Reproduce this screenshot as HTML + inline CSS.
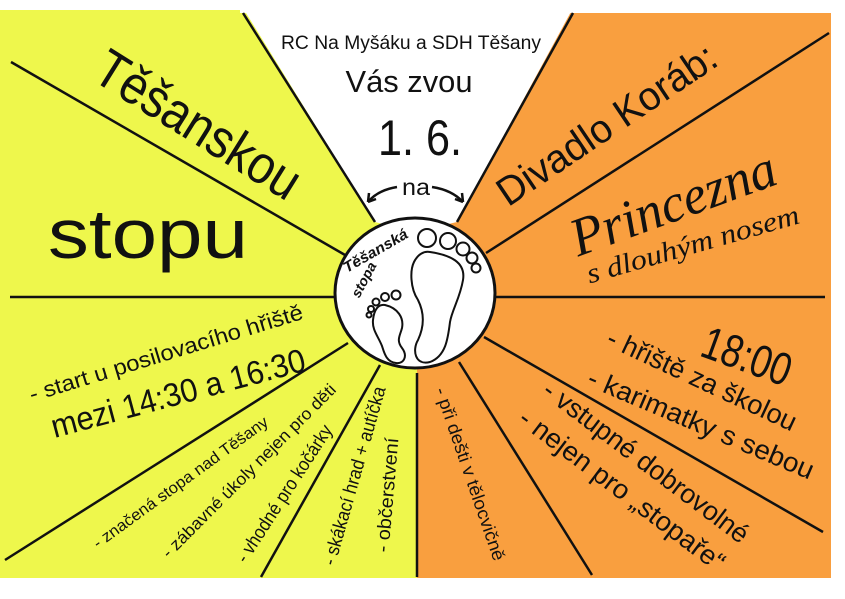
<!DOCTYPE html>
<html><head><meta charset="utf-8"><style>
html,body{margin:0;padding:0;background:#fff;}
svg{display:block;}
text{font-family:"Liberation Sans",sans-serif;fill:#111;}
</style></head><body>
<svg width="845" height="599" viewBox="0 0 845 599" xmlns="http://www.w3.org/2000/svg">
<rect x="0" y="10" width="418" height="568" fill="#eef74c"/>
<rect x="417" y="13" width="414" height="565" fill="#f99f3f"/>
<polygon points="243,8 375,222 415,232 457,222 573,8" fill="#fff"/>
<rect x="240" y="0" width="340" height="13" fill="#fff"/>
<g stroke="#111" stroke-width="2.5" fill="none">
<line x1="243" y1="13" x2="375" y2="222"/>
<line x1="573" y1="13" x2="457" y2="222"/>
<line x1="11" y1="62" x2="345" y2="255"/>
<line x1="10" y1="297" x2="337" y2="297"/>
<line x1="348" y1="343" x2="5" y2="560"/>
<line x1="380" y1="365" x2="261" y2="577"/>
<line x1="417" y1="373" x2="417" y2="577"/>
<line x1="829" y1="33" x2="486" y2="253"/>
<line x1="495" y1="297" x2="825" y2="297"/>
<line x1="459" y1="362" x2="592" y2="575"/>
<line x1="484" y1="337" x2="823" y2="532"/>
<path d="M397,187 Q378,190 368,202"/>
<path d="M368,202 L369,193 M368,202 L376,199"/>
<path d="M432,187 Q452,190 463,202"/>
<path d="M463,202 L462,193 M463,202 L455,199"/>
</g>
<ellipse cx="415" cy="293" rx="80" ry="75" fill="#fff" stroke="#111" stroke-width="3"/>
<g stroke="#111" stroke-width="2" fill="none">
<circle cx="427" cy="238" r="9"/><circle cx="448" cy="241" r="8"/><circle cx="463" cy="249" r="6.5"/><circle cx="472" cy="258" r="5.5"/><circle cx="476" cy="268" r="4.5"/>
<path d="M430,252 C450,255 466,262 463,280 C460,298 452,310 450,322 C448,338 446,356 430,362 C415,366 412,350 418,340 C425,325 424,312 418,300 C410,288 410,270 414,262 C418,254 424,251 430,252 Z"/>
<circle cx="396" cy="295" r="4.5"/><circle cx="385" cy="297" r="4"/><circle cx="376" cy="302" r="3.5"/><circle cx="371" cy="309" r="3"/><circle cx="369" cy="315" r="2.5"/>
<path d="M385,305 C398,308 404,318 402,328 C400,336 396,340 402,348 C408,356 404,364 396,363 C386,362 384,352 382,346 C378,336 372,330 373,320 C374,310 378,304 385,305 Z"/>
</g>
<text transform="translate(378,255) rotate(-30)" font-size="15" font-weight="bold" font-style="italic" text-anchor="middle" textLength="72" lengthAdjust="spacingAndGlyphs">Těšanská</text>
<text transform="translate(368,282) rotate(-62)" font-size="14" font-weight="bold" font-style="italic" text-anchor="middle" textLength="38" lengthAdjust="spacingAndGlyphs">stopa</text>

<text x="411" y="49" font-size="19" text-anchor="middle" textLength="260" lengthAdjust="spacingAndGlyphs">RC Na Myšáku a SDH Těšany</text>
<text x="409" y="92" font-size="31" text-anchor="middle" textLength="127" lengthAdjust="spacingAndGlyphs">Vás zvou</text>
<text x="420" y="155" font-size="50" text-anchor="middle" textLength="84" lengthAdjust="spacingAndGlyphs">1. 6.</text>
<text x="416" y="195" font-size="23" text-anchor="middle" textLength="28" lengthAdjust="spacingAndGlyphs">na</text>

<text transform="translate(198,125) rotate(32)" font-size="54" dominant-baseline="central" text-anchor="middle" textLength="232" lengthAdjust="spacingAndGlyphs">Těšanskou</text>
<text x="48" y="258" font-size="70" textLength="200" lengthAdjust="spacingAndGlyphs">stopu</text>

<text transform="translate(607,125) rotate(-34)" font-size="40" dominant-baseline="central" text-anchor="middle" textLength="256" lengthAdjust="spacingAndGlyphs">Divadlo Koráb:</text>
<text transform="translate(673,203) rotate(-20)" font-size="54" dominant-baseline="central" text-anchor="middle" textLength="215" lengthAdjust="spacingAndGlyphs" style="font-family:'Liberation Serif',serif;font-style:italic">Princezna</text>
<text transform="translate(693,245) rotate(-16)" font-size="28" dominant-baseline="central" text-anchor="middle" textLength="220" lengthAdjust="spacingAndGlyphs" style="font-family:'Liberation Serif',serif;font-style:italic">s dlouhým nosem</text>

<text transform="translate(747,356) rotate(20)" font-size="46" dominant-baseline="central" text-anchor="middle" textLength="92" lengthAdjust="spacingAndGlyphs">18:00</text>
<text transform="translate(702,380) rotate(25)" font-size="27" dominant-baseline="central" text-anchor="middle" textLength="206" lengthAdjust="spacingAndGlyphs">- hřiště za školou</text>
<text transform="translate(701,424) rotate(23)" font-size="27" dominant-baseline="central" text-anchor="middle" textLength="243" lengthAdjust="spacingAndGlyphs">- karimatky s sebou</text>
<text transform="translate(646,462) rotate(37)" font-size="27" dominant-baseline="central" text-anchor="middle" textLength="250" lengthAdjust="spacingAndGlyphs">- vstupné dobrovolné</text>
<text transform="translate(622,490) rotate(37)" font-size="27" dominant-baseline="central" text-anchor="middle" textLength="250" lengthAdjust="spacingAndGlyphs">- nejen pro „stopaře“</text>
<text transform="translate(470,474) rotate(71)" font-size="18" dominant-baseline="central" text-anchor="middle" textLength="182" lengthAdjust="spacingAndGlyphs">- při dešti v tělocvičně</text>

<text transform="translate(166,353) rotate(-17)" font-size="22" dominant-baseline="central" text-anchor="middle" textLength="285" lengthAdjust="spacingAndGlyphs">- start u posilovacího hřiště</text>
<text transform="translate(178,393) rotate(-15)" font-size="33" dominant-baseline="central" text-anchor="middle" textLength="262" lengthAdjust="spacingAndGlyphs">mezi 14:30 a 16:30</text>
<text transform="translate(181,483) rotate(-36)" font-size="16" dominant-baseline="central" text-anchor="middle" textLength="212" lengthAdjust="spacingAndGlyphs">- značená stopa nad Těšany</text>
<text transform="translate(249,471) rotate(-45)" font-size="17" dominant-baseline="central" text-anchor="middle" textLength="238" lengthAdjust="spacingAndGlyphs">- zábavné úkoly nejen pro děti</text>
<text transform="translate(285,494) rotate(-57)" font-size="19" dominant-baseline="central" text-anchor="middle" textLength="160" lengthAdjust="spacingAndGlyphs">- vhodné pro kočárky</text>
<text transform="translate(355,476) rotate(-74)" font-size="19" dominant-baseline="central" text-anchor="middle" textLength="185" lengthAdjust="spacingAndGlyphs">- skákací hrad + autíčka</text>
<text transform="translate(388,495) rotate(-85)" font-size="19" dominant-baseline="central" text-anchor="middle" textLength="115" lengthAdjust="spacingAndGlyphs">- občerstvení</text>
</svg>
</body></html>
